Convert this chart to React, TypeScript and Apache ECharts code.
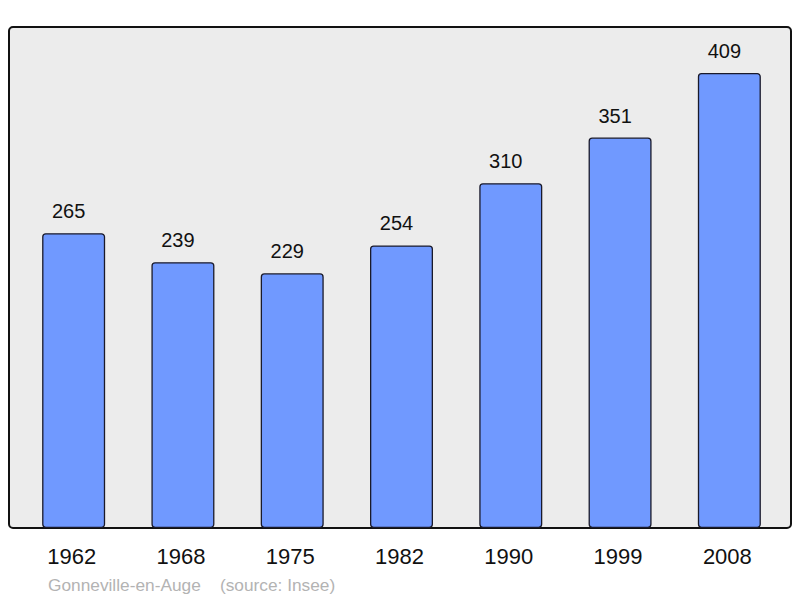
import React, { useEffect, useRef } from "react";
import * as echarts from "echarts";

const years = ["1962", "1968", "1975", "1982", "1990", "1999", "2008"];
const population = [265, 239, 229, 254, 310, 351, 409];
const footer = "Gonneville-en-Auge    (source: Insee)";

export default function App() {
  const ref = useRef<HTMLDivElement>(null);
  useEffect(() => {
    document.body.style.margin = "0";
    const chart = echarts.init(ref.current!, null, { renderer: "svg" });
    chart.setOption({
      animation: false,
      grid: { left: 19, right: 16, top: 27.4, bottom: 70, containLabel: false },
      graphic: [
        {
          type: "rect",
          z: -10,
          shape: { x: 9, y: 27, width: 782, height: 501, r: 4 },
          style: { fill: "#ececec", stroke: "#111", lineWidth: 2 },
        },
        {
          type: "text",
          x: 48,
          y: 576,
          style: {
            text: footer,
            fill: "#b3b3b3",
            font: "17.3px 'Liberation Sans', Arial, sans-serif",
          },
        },
      ],
      xAxis: {
        type: "category",
        data: years,
        axisLine: { show: false },
        axisTick: { show: false },
        axisLabel: {
          margin: 17,
          color: "#111",
          fontSize: 22,
          padding: [0, 4, 0, 0],
          fontFamily: "'Liberation Sans', Arial, sans-serif",
        },
      },
      yAxis: {
        type: "value",
        min: 0,
        max: 450,
        show: false,
        splitLine: { show: false },
      },
      series: [
        {
          type: "bar",
          data: population,
          barWidth: 63,
          itemStyle: {
            color: "#7099ff",
            borderColor: "#1a1a2a",
            borderWidth: 1.3,
            borderRadius: 3,
          },
          label: {
            show: true,
            position: "top",
            distance: 12,
            offset: [-5, 0],
            color: "#111",
            fontSize: 20,
            fontFamily: "'Liberation Sans', Arial, sans-serif",
          },
        },
      ],
    });
    return () => chart.dispose();
  }, []);
  return <div ref={ref} style={{ width: 800, height: 598 }} />;
}
